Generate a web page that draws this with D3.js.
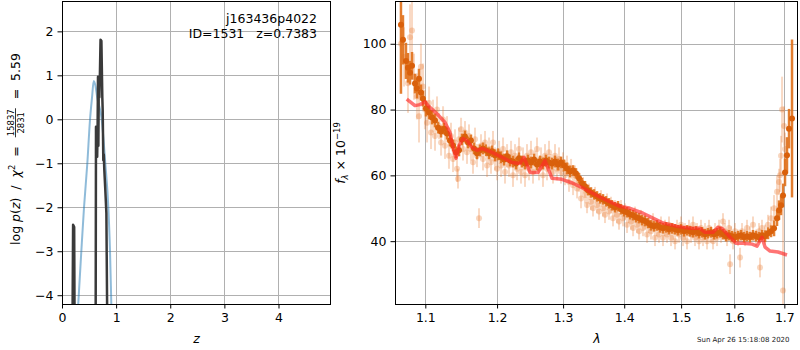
<!DOCTYPE html>
<html lang="en">
<head>
<meta charset="UTF-8" />
<title>p(z) and spectrum</title>
<style>
  body { margin: 0; background: #fff; }
  svg text { font-family: "DejaVu Sans", sans-serif; white-space: pre; }
</style>
</head>
<body>
<div id="chart"></div>
<script src="https://cdnjs.cloudflare.com/ajax/libs/d3/7.8.5/d3.min.js"></script>
<script>
// ---- left panel: log p(z) ----
var zTicks = [0, 1, 2, 3, 4];
var lnpTicks = [-4, -3, -2, -1, 0, 1, 2];
var priorZ = [0.286, 0.30, 0.357, 0.407, 0.468, 0.518, 0.555, 0.586, 0.62, 0.65, 0.734, 0.80, 0.856, 0.887, 0.911, 0.917];
var priorLnp = [-4.5, -4.2, -3, -2, -1, 0, 0.5, 0.87, 0.75, 0.5, 0, -1, -2, -3, -4.2, -4.5];
var pzZ = [0.195, 0.205, 0.225, 0.232, 0.232, 0.622, 0.628, 0.64, 0.65, 0.658, 0.665, 0.672, 0.68, 0.69, 0.70, 0.712, 0.728, 0.745, 0.752, 0.763, 0.772, 0.782, 0.80, 0.82, 0.835];
var pzLnp = [-4.5, -2.4, -2.45, -4.5, -4.5, -4.5, -0.17, -0.5, -0.85, -0.2, 0.97, -0.6, 0.9, 0.5, 1.0, 1.81, 1.78, 0.5, 0.2, -0.93, -0.8, -1.16, -1.6, -2.14, -4.5];
var objName = 'j163436p4022';
var objInfo = 'ID=1531   z=0.7383';
var chiNum = '15837', chiDen = '2831', chiVal = '5.59';

// ---- right panel: spectrum ----
var lamTicks = [1.1, 1.2, 1.3, 1.4, 1.5, 1.6, 1.7];
var fluxTicks = [40, 60, 80, 100];

// model
var modelLam = [1.0755,1.0863,1.0929,1.0996,1.1036,1.1153,1.1266,1.1334,1.1376,1.1417,
  1.1459,1.1514,1.1570,1.1641,1.1711,1.1783,1.1926,1.2072,1.2219,1.2338,
  1.2398,1.2489,1.2611,1.2718,1.2827,1.2983,1.3157,1.3318,1.3546,1.3711,
  1.3929,1.4099,1.4323,1.4568,1.4675,1.4926,1.5163,1.5348,1.5441,1.5592,
  1.5687,1.5763,1.5917,1.6033,1.6169,1.6347,1.6446,1.6546,1.6607,1.6708,
  1.6870,1.7055];
var modelFlux = [83.2,81.2,81.5,82.4,81.2,78.8,76.1,73.0,68.5,65.2,
  69.1,71.2,70.6,68.5,67.6,68.2,67.0,65.5,63.9,63.6,
  65.5,60.9,60.9,64.5,59.1,58.8,57.6,56.1,53.9,52.4,
  50.6,50.0,48.5,46.4,45.5,44.5,43.9,43.9,42.7,42.7,
  44.2,43.9,41.2,39.4,39.4,39.1,38.5,41.2,38.2,37.0,
  36.7,35.8];

// binned spectrum
var binLam = [1.0680,1.0706,1.0745,1.0771,1.0798,1.0824,1.0863,1.0889,1.0916,1.0942,
  1.0969,1.1009,1.1050,1.1090,1.1130,1.1171,1.1212,1.1252,1.1293,1.1334,
  1.1376,1.1417,1.1459,1.1500,1.1542,1.1584,1.1626,1.1669,1.1711,1.1754,
  1.1797,1.1840,1.1884,1.1927,1.1970,1.2014,1.2058,1.2102,1.2146,1.2190,
  1.2234,1.2279,1.2323,1.2368,1.2413,1.2459,1.2504,1.2550,1.2595,1.2641,
  1.2687,1.2734,1.2780,1.2827,1.2873,1.2920,1.2967,1.3015,1.3062,1.3110,
  1.3158,1.3205,1.3254,1.3302,1.3350,1.3398,1.3447,1.3496,1.3546,1.3595,
  1.3645,1.3694,1.3744,1.3794,1.3845,1.3895,1.3946,1.3997,1.4048,1.4099,
  1.4151,1.4202,1.4254,1.4306,1.4358,1.4410,1.4462,1.4515,1.4568,1.4621,
  1.4674,1.4728,1.4781,1.4835,1.4890,1.4944,1.4998,1.5053,1.5108,1.5163,
  1.5218,1.5274,1.5329,1.5385,1.5441,1.5497,1.5554,1.5611,1.5668,1.5725,
  1.5782,1.5840,1.5898,1.5955,1.6013,1.6072,1.6130,1.6189,1.6248,1.6307,
  1.6366,1.6426,1.6486,1.6546,1.6607,1.6667,1.6728,1.6789,1.6850,1.6891,
  1.6932,1.6973,1.7014,1.7055,1.7097,1.7159];
var binFlux = [105.8,101.2,94.8,92.7,91.2,93.3,87.9,86.4,89.4,85.2,
  83.3,80.3,79.1,77.6,76.7,74.5,73.3,74.2,72.7,70.6,
  69.1,67.0,67.6,70.9,71.8,70.0,70.6,68.2,66.7,67.6,
  68.2,67.6,66.7,67.3,66.1,66.4,65.5,64.8,65.8,64.5,
  64.2,63.6,65.2,64.2,63.6,64.5,63.9,64.8,63.3,64.2,
  63.6,64.5,63.9,63.6,64.2,63.3,63.9,63.0,62.1,61.2,
  61.5,60.6,59.1,57.6,56.7,55.5,54.8,54.2,53.6,53.0,
  52.7,52.1,51.5,50.9,50.3,50.6,49.7,49.1,48.8,48.2,
  47.9,47.3,47.0,46.4,46.1,45.5,44.8,44.5,44.8,44.2,
  43.9,44.2,43.6,43.9,43.6,43.3,43.6,43.0,43.3,43.0,
  42.7,43.0,42.4,42.7,42.1,42.4,42.7,42.1,42.4,42.7,
  42.1,41.5,41.8,41.5,41.2,41.5,41.8,41.2,41.5,41.2,
  41.8,41.5,41.2,41.8,41.5,42.4,43.0,43.9,47.0,49.4,
  50.9,53.9,60.9,66.1,74.2,77.3];
var binErr = [21,7.5,5.5,4.5,3.6,4.2,3,3,3,2.4,
  2.4,2.4,2.1,2.1,2.1,1.8,1.8,1.8,1.8,1.8,
  1.8,1.8,1.8,1.8,1.8,1.8,1.8,1.8,1.8,1.8,
  1.8,1.8,1.8,1.8,1.8,1.8,1.8,1.8,1.8,1.8,
  1.8,1.8,1.8,1.8,1.8,1.8,1.8,1.8,1.8,1.8,
  1.8,1.8,1.8,1.8,1.8,1.8,1.8,1.8,1.8,1.8,
  1.6,1.6,1.6,1.6,1.6,1.6,1.6,1.6,1.6,1.6,
  1.6,1.6,1.6,1.6,1.6,1.6,1.6,1.6,1.6,1.6,
  1.6,1.6,1.6,1.6,1.6,1.6,1.6,1.6,1.6,1.6,
  1.6,1.6,1.6,1.6,1.6,1.6,1.6,1.6,1.6,1.6,
  1.6,1.6,1.6,1.6,1.6,1.6,1.6,1.6,1.6,1.6,
  1.6,1.6,1.6,1.6,1.6,1.6,1.6,1.6,1.6,1.6,
  1.6,1.6,1.6,1.6,1.8,1.8,1.8,2.4,2.4,3,
  3,3.6,4.2,5.5,6,24];

// individual pixels
var pixLam = [1.0680,1.0720,1.0771,1.0798,1.0824,1.0850,1.0889,1.0916,1.0942,1.0969,
  1.0995,1.1023,1.1050,1.1076,1.1103,1.1130,1.1157,1.1185,1.1212,1.1239,
  1.1266,1.1293,1.1320,1.1348,1.1376,1.1403,1.1431,1.1445,1.1459,1.1487,
  1.1514,1.1542,1.1570,1.1598,1.1626,1.1655,1.1683,1.1711,1.1740,1.1768,
  1.1797,1.1826,1.1855,1.1884,1.1912,1.1941,1.1970,1.2000,1.2029,1.2058,
  1.2087,1.2116,1.2146,1.2175,1.2205,1.2234,1.2264,1.2294,1.2323,1.2353,
  1.2383,1.2413,1.2443,1.2474,1.2504,1.2534,1.2565,1.2595,1.2626,1.2657,
  1.2687,1.2718,1.2749,1.2780,1.2811,1.2842,1.2873,1.2904,1.2936,1.2967,
  1.2999,1.3030,1.3062,1.3094,1.3126,1.3158,1.3189,1.3222,1.3254,1.3286,
  1.3318,1.3350,1.3383,1.3415,1.3447,1.3480,1.3513,1.3546,1.3579,1.3612,
  1.3645,1.3678,1.3711,1.3744,1.3778,1.3811,1.3845,1.3878,1.3912,1.3946,
  1.3980,1.4014,1.4048,1.4082,1.4117,1.4151,1.4185,1.4220,1.4254,1.4289,
  1.4323,1.4358,1.4393,1.4428,1.4462,1.4498,1.4533,1.4568,1.4603,1.4639,
  1.4674,1.4710,1.4746,1.4781,1.4817,1.4853,1.4890,1.4926,1.4962,1.4998,
  1.5035,1.5071,1.5108,1.5144,1.5181,1.5218,1.5255,1.5292,1.5329,1.5366,
  1.5404,1.5441,1.5479,1.5516,1.5554,1.5592,1.5630,1.5668,1.5706,1.5744,
  1.5782,1.5820,1.5859,1.5898,1.5917,1.5936,1.5975,1.6013,1.6072,1.6111,
  1.6150,1.6209,1.6248,1.6307,1.6366,1.6426,1.6486,1.6506,1.6546,1.6607,
  1.6667,1.6728,1.6789,1.6850,1.6891,1.6911,1.6932,1.6953,1.6973,1.6994,
  1.7014];
var pixFlux = [100,96,88,102,104,90,84,78,93,87,
  80,76,82,73,78,72,80,75,70,77,
  69,74,66,72,65,70,62,59,71,74,
  68,73,67,72,68,64,71,66,47,69,
  65,70,63,68,64,70,65,62,67,63,
  68,61,66,63,67,60,66,62,68,61,
  65,60,66,62,67,61,64,68,62,65,
  60,66,62,67,63,61,66,62,65,61,
  64,60,63,58,62,57,60,56,58,53,
  57,54,51,55,52,50,54,51,49,53,
  50,48,52,49,51,47,50,48,46,50,
  47,49,45,48,46,44,48,45,43,47,
  44,46,42,45,43,46,41,44,42,45,
  41,44,42,45,41,43,40,44,42,45,
  41,43,40,44,42,45,41,43,40,44,
  41,43,40,44,42,40,43,41,44,42,
  46,43,41,44,33,42,40,43,41,35,
  43,41,44,42,45,41,43,32,44,42,
  45,47,50,55,58,60,66,80,25,75,
  68];
var pixErr = [10,9,9,10,9,7,7,8,7,7,
  6,6,5,5,5,4.5,4,4,4,4,
  4,4,4,4,4,4,4,3,3.5,3.5,
  3.5,3.5,3.5,3.5,3.5,3.5,3.5,3.5,3,3.5,
  3.5,3.5,3.5,3.5,3.5,3.5,3.5,3.5,3.5,3.5,
  3.5,3.5,3.5,3.5,3.5,3.5,3.5,3.5,3.5,3.5,
  3.5,3.5,3.5,3.5,3.5,3.5,3.5,3.5,3.5,3.5,
  3.5,3.5,3.5,3.5,3.5,3.5,3.5,3.5,3.5,3.5,
  3,3,3,3,3,3,3,3,3,3,
  2.5,2.5,2.5,2.5,2.5,2.5,2.5,2.5,2.5,2.5,
  2.5,2.5,2.5,2.5,2.5,2.5,2.5,2.5,2.5,2.5,
  2.5,2.5,2.5,2.5,2.5,2.5,2.5,2.5,2.5,2.5,
  2.5,2.5,2.5,2.5,2.5,2.5,2.5,2.5,2.5,2.5,
  2.5,2.5,2.5,2.5,2.5,2.5,2.5,2.5,2.5,2.5,
  2.5,2.5,2.5,2.5,2.5,2.5,2.5,2.5,2.5,2.5,
  2.5,2.5,2.5,2.5,2.5,2.5,2.5,2.5,2.5,2.5,
  2.5,2.5,2.5,2.5,3,2.5,2.5,2.5,2.5,3,
  2.5,2.5,2.5,2.5,2.5,2.5,2.5,3,2.5,3,
  3,3.5,4,5,4,5,6,10,28,6,
  5];
var dateStamp = 'Sun Apr 26 15:18:08 2020';

var W = 800, H = 350;
var fs = 12.5, fsSmall = 8.5;
var svg = d3.select('#chart').append('svg').attr('width', W).attr('height', H);

var L = {left: 62, right: 331, top: 1, bottom: 304};
var R = {left: 395, right: 798, top: 1, bottom: 304};

var xL = d3.scaleLinear().domain([0, 4.97]).range([L.left, L.right]);
var yL = d3.scaleLinear().domain([-4.2, 2.69]).range([L.bottom, L.top]);
var xR = d3.scaleLog().domain([1.0603, 1.7284]).range([R.left, R.right]);
var yR = d3.scaleLinear().domain([20.9, 113.0]).range([R.bottom, R.top]);

function panel(box, x, y, xt, yt, xfmt, yfmt, id) {
  svg.append('clipPath').attr('id', id).append('rect')
    .attr('x', box.left).attr('y', box.top)
    .attr('width', box.right - box.left).attr('height', box.bottom - box.top);
  var grid = svg.append('g');
  grid.selectAll('.gx').data(xt).enter().append('line')
    .attr('x1', function (d) { return Math.round(x(d)) + 0.5; })
    .attr('x2', function (d) { return Math.round(x(d)) + 0.5; })
    .attr('y1', box.top).attr('y2', box.bottom)
    .attr('stroke', '#b0b0b0');
  grid.selectAll('.gy').data(yt).enter().append('line')
    .attr('y1', function (d) { return Math.round(y(d)) + 0.5; })
    .attr('y2', function (d) { return Math.round(y(d)) + 0.5; })
    .attr('x1', box.left).attr('x2', box.right)
    .attr('stroke', '#b0b0b0');

  var ax = svg.append('g').attr('transform', 'translate(0,' + box.bottom + ')')
    .call(d3.axisBottom(x).tickValues(xt).tickFormat(xfmt).tickSize(4.5).tickPadding(5));
  var ay = svg.append('g').attr('transform', 'translate(' + box.left + ',0)')
    .call(d3.axisLeft(y).tickValues(yt).tickFormat(yfmt).tickSize(4.5).tickPadding(4));
  [ax, ay].forEach(function (a) {
    a.select('.domain').remove();
    a.attr('font-size', fs).attr('font-family', null);
    a.selectAll('text').attr('fill', '#000');
  });
  return svg.append('g').attr('clip-path', 'url(#' + id + ')');
}

function frame(box) {
  svg.append('rect')
    .attr('x', box.left + 0.5).attr('y', box.top + 0.5)
    .attr('width', box.right - box.left - 1).attr('height', box.bottom - box.top)
    .attr('fill', 'none').attr('stroke', '#000');
}

// ---- left panel ----
var pl = panel(L, xL, yL, zTicks, lnpTicks, d3.format('d'), d3.format('d'), 'clipL');

var lineL = d3.line().x(function (d) { return xL(d[0]); }).y(function (d) { return yL(d[1]); });
pl.append('path')
  .datum(d3.zip(priorZ, priorLnp))
  .attr('d', lineL.curve(d3.curveMonotoneX))
  .attr('fill', 'none').attr('stroke', '#1f77b4').attr('stroke-opacity', 0.5).attr('stroke-width', 2);
pl.append('path')
  .datum(d3.zip(pzZ, pzLnp))
  .attr('d', lineL.curve(d3.curveLinear))
  .attr('fill', 'none').attr('stroke', '#3a3a3a').attr('stroke-width', 2.5)
  .attr('stroke-linejoin', 'round');

svg.append('text').attr('x', 317).attr('y', 22.5).attr('text-anchor', 'end')
  .attr('font-size', fs).text(objName);
svg.append('text').attr('x', 317).attr('y', 37.5).attr('text-anchor', 'end')
  .attr('font-size', fs).text(objInfo);
frame(L);

// x label
svg.append('text').attr('x', (L.left + L.right) / 2).attr('y', 343).attr('text-anchor', 'middle')
  .attr('font-size', fs).attr('font-style', 'italic').text('z');

// y label with fraction (mathtext-like spacing)
var ylab = svg.append('g').attr('transform', 'translate(19.5,149) rotate(-90)');
var yin = ylab.append('g');
var p1 = yin.append('text').attr('font-size', fs);
p1.append('tspan').text('log ');
p1.append('tspan').attr('font-style', 'italic').text('p');
p1.append('tspan').text('(');
p1.append('tspan').attr('font-style', 'italic').text('z');
p1.append('tspan').text(')  /  ');
p1.append('tspan').attr('font-style', 'italic').text('χ');
p1.append('tspan').attr('font-size', fsSmall).attr('dy', -5).text('2');
p1.append('tspan').attr('dy', 5).text('  =  ');
var w1 = p1.node().getComputedTextLength();
var num = yin.append('text').attr('font-size', fsSmall).attr('text-anchor', 'middle').attr('y', -5.5).text(chiNum);
var den = yin.append('text').attr('font-size', fsSmall).attr('text-anchor', 'middle').attr('y', 4).text(chiDen);
var fw = Math.max(num.node().getComputedTextLength(), den.node().getComputedTextLength()) + 4;
num.attr('x', w1 + fw / 2);
den.attr('x', w1 + fw / 2);
yin.append('line').attr('x1', w1 + 1).attr('x2', w1 + fw - 1).attr('y1', -4).attr('y2', -4)
  .attr('stroke', '#000').attr('stroke-width', 0.8);
var p3 = yin.append('text').attr('font-size', fs).attr('x', w1 + fw).text('  =  ' + chiVal);
var total = w1 + fw + p3.node().getComputedTextLength();
yin.attr('transform', 'translate(' + (-total / 2) + ',0)');

// ---- right panel ----
var pr = panel(R, xR, yR, lamTicks, fluxTicks, d3.format('.1f'), d3.format('d'), 'clipR');

var pix = d3.zip(pixLam, pixFlux, pixErr);
var bins = d3.zip(binLam, binFlux, binErr);
var lightCol = '#e8782a', darkCol = '#d9600b';

pr.append('g').selectAll('line').data(pix).enter().append('line')
  .attr('x1', function (d) { return xR(d[0]); }).attr('x2', function (d) { return xR(d[0]); })
  .attr('y1', function (d) { return yR(d[1] - d[2]); }).attr('y2', function (d) { return yR(d[1] + d[2]); })
  .attr('stroke', lightCol).attr('stroke-opacity', 0.28).attr('stroke-width', 2);
pr.append('g').selectAll('circle').data(pix).enter().append('circle')
  .attr('cx', function (d) { return xR(d[0]); }).attr('cy', function (d) { return yR(d[1]); })
  .attr('r', 3).attr('fill', lightCol).attr('fill-opacity', 0.3);

pr.append('g').selectAll('line').data(bins).enter().append('line')
  .attr('x1', function (d) { return xR(d[0]); }).attr('x2', function (d) { return xR(d[0]); })
  .attr('y1', function (d) { return yR(d[1] - d[2]); }).attr('y2', function (d) { return yR(d[1] + d[2]); })
  .attr('stroke', '#e0701a').attr('stroke-opacity', 0.9).attr('stroke-width', 2.5);
pr.append('g').selectAll('circle').data(bins).enter().append('circle')
  .attr('cx', function (d) { return xR(d[0]); }).attr('cy', function (d) { return yR(d[1]); })
  .attr('r', 3).attr('fill', darkCol);

pr.append('path')
  .datum(d3.zip(modelLam, modelFlux))
  .attr('d', d3.line().x(function (d) { return xR(d[0]); }).y(function (d) { return yR(d[1]); }))
  .attr('fill', 'none').attr('stroke', '#ff2a2a').attr('stroke-opacity', 0.65).attr('stroke-width', 3.5)
  .attr('stroke-linejoin', 'round');
frame(R);

svg.append('text').attr('x', 597).attr('y', 343).attr('text-anchor', 'middle')
  .attr('font-size', fs).attr('font-style', 'italic').text('λ');

var ylabR = svg.append('text').attr('transform', 'translate(345,153) rotate(-90)')
  .attr('text-anchor', 'middle').attr('font-size', fs);
ylabR.append('tspan').attr('font-style', 'italic').text('f');
ylabR.append('tspan').attr('font-style', 'italic').attr('font-size', fsSmall).attr('dy', 3).text('λ');
ylabR.append('tspan').attr('dy', -3).text(' × 10');
ylabR.append('tspan').attr('font-size', fsSmall).attr('dy', -5).text('−19');

svg.append('text').attr('x', 697).attr('y', 342).attr('font-size', 7).attr('fill', '#222').text(dateStamp);
</script>
</body>
</html>
